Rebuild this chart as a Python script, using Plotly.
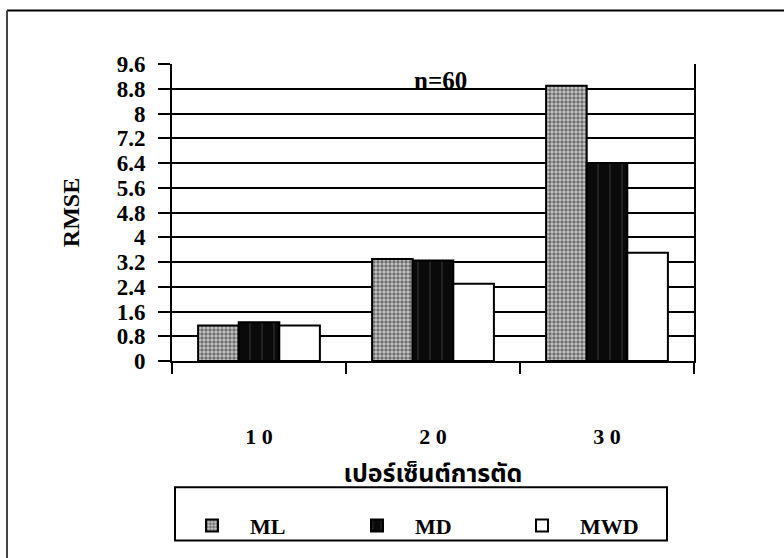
import plotly.graph_objects as go

# RMSE by cut percentage, n = 60
categories = ["10", "20", "30"]
tick_text = ["1 0", "2 0", "3 0"]
ml_values = [1.15, 3.3, 8.9]
md_values = [1.25, 3.25, 6.4]
mwd_values = [1.15, 2.5, 3.5]
y_ticks = [0, 0.8, 1.6, 2.4, 3.2, 4, 4.8, 5.6, 6.4, 7.2, 8, 8.8, 9.6]

SERIF = "Liberation Serif, Times New Roman, serif"
THAI = "Noto Sans Thai, Loma, Garuda, Tlwg Typo, Norasi, DejaVu Sans, sans-serif"

W, H = 784, 558
L, R, T, B = 172, 90, 64, 188
PW, PH = W - L - R, H - T - B


def px(x):
    """pixel column -> paper x"""
    return (x - L) / PW


def py(y):
    """pixel row -> paper y"""
    return (H - B - y) / PH


fig = go.Figure()

fig.add_trace(go.Bar(
    name="ML", x=categories, y=ml_values,
    marker=dict(
        color="#b0b0b0",
        line=dict(color="black", width=2),
        pattern=dict(shape=".", fgcolor="#111111", bgcolor="#c8c8c8",
                     size=4, solidity=0.55),
    ),
))
fig.add_trace(go.Bar(
    name="MD", x=categories, y=md_values,
    marker=dict(
        color="#0a0a0a",
        line=dict(color="black", width=2),
        pattern=dict(shape="|", fgcolor="#6a6a6a", bgcolor="#0a0a0a",
                     size=12, solidity=0.08),
    ),
))
fig.add_trace(go.Bar(
    name="MWD", x=categories, y=mwd_values,
    marker=dict(color="white", line=dict(color="black", width=2)),
))

fig.update_layout(
    width=W, height=H,
    margin=dict(l=L, r=R, t=T, b=B),
    paper_bgcolor="white", plot_bgcolor="white",
    barmode="group", bargap=0.3, bargroupgap=0,
    font=dict(family=SERIF, size=18, color="black"),
    showlegend=True,
    legend=dict(
        orientation="h",
        x=px(174), xanchor="left",
        y=py(518), yanchor="top",
        borderwidth=0,
        bgcolor="rgba(0,0,0,0)",
        entrywidth=84, entrywidthmode="pixels",
        itemwidth=66,
        font=dict(family=SERIF, size=22, color="black", weight="bold"),
        itemsizing="constant",
        traceorder="normal",
    ),
    xaxis=dict(
        type="category",
        tickmode="array", tickvals=categories, ticktext=tick_text,
        tickson="boundaries",
        ticks="outside", ticklen=11, tickwidth=2, tickcolor="black",
        ticklabelstandoff=55,
        tickfont=dict(family=SERIF, size=22, color="black", weight="bold"),
        showline=True, linecolor="black", linewidth=2,
        showgrid=False,
        title=dict(text="เปอร์เซ็นต์การตัด", standoff=16,
                   font=dict(family=THAI, size=25, color="black", weight="bold")),
    ),
    yaxis=dict(
        range=[0, 9.6],
        tickmode="array", tickvals=y_ticks,
        ticktext=[f"{v:g}" for v in y_ticks],
        ticks="outside", ticklen=12, tickwidth=2, tickcolor="black",
        ticklabelstandoff=8,
        tickfont=dict(family=SERIF, size=23, color="black", weight="bold"),
        showline=True, linecolor="black", linewidth=2, mirror=True,
        showgrid=True, gridcolor="black", gridwidth=2,
        zeroline=False,
        title=dict(text="RMSE", standoff=30,
                   font=dict(family=SERIF, size=24, color="black", weight="bold")),
    ),
)

# legend frame
fig.add_shape(type="rect", xref="paper", yref="paper",
              x0=px(175), x1=px(667), y0=py(500), y1=py(555),
              line=dict(color="black", width=2), fillcolor="rgba(0,0,0,0)")

# panel frame around the whole chart (top and left edges visible)
fig.add_shape(type="line", xref="paper", yref="paper",
              x0=px(7), x1=px(800), y0=py(9), y1=py(9),
              line=dict(color="black", width=2))
fig.add_shape(type="line", xref="paper", yref="paper",
              x0=px(7), x1=px(7), y0=py(9), y1=py(580),
              line=dict(color="#444", width=2))

fig.add_annotation(
    text="n=60", xref="paper", yref="paper", x=px(440), y=py(65),
    xanchor="center", yanchor="top", showarrow=False,
    font=dict(family=SERIF, size=25, color="black", weight="bold"),
)

fig.write_html("out.html")
